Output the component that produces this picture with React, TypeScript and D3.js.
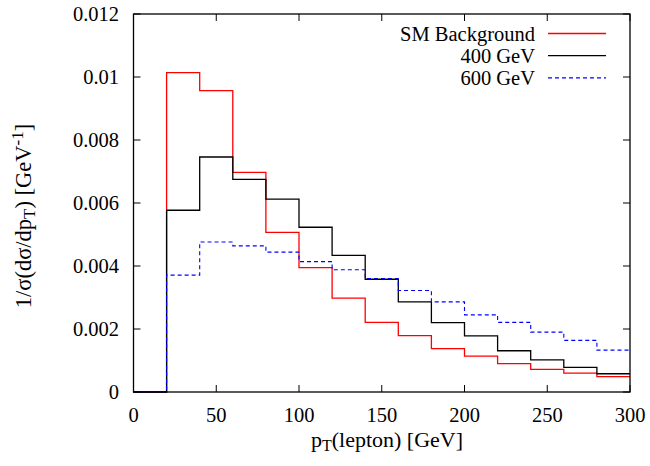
import React from "react";
import * as d3 from "d3";

// bin lower edges (GeV), bin width 20
const binEdges = [0, 20, 40, 60, 80, 100, 120, 140, 160, 180, 200, 220, 240, 260, 280];
const binWidth = 20;

const smBackground = [0, 0.01014, 0.00957, 0.00697, 0.00507, 0.00395, 0.00298, 0.00221, 0.00179, 0.00138, 0.00114, 0.0009, 0.00072, 0.0006, 0.00049];
const mass400 = [0, 0.00577, 0.00746, 0.00675, 0.00612, 0.00523, 0.00434, 0.00358, 0.00286, 0.0022, 0.00178, 0.00131, 0.00102, 0.00078, 0.00058];
const mass600 = [0, 0.00371, 0.00476, 0.00464, 0.00444, 0.00414, 0.00388, 0.0036, 0.00322, 0.00286, 0.00245, 0.00221, 0.0019, 0.00164, 0.00133];

const xTicks = [0, 50, 100, 150, 200, 250, 300];
const yTicks = [0, 0.002, 0.004, 0.006, 0.008, 0.01, 0.012];

const series = [
  { name: "SM Background", values: smBackground, color: "#ff0000", dash: "", width: 1.3 },
  { name: "400 GeV", values: mass400, color: "#000000", dash: "", width: 1.3 },
  { name: "600 GeV", values: mass600, color: "#0000ff", dash: "4,3", width: 1.1 },
];

export default function App() {
  const width = 650;
  const height = 466;
  const margin = { left: 133.5, right: 20, top: 14, bottom: 74 };
  const font = "Liberation Serif, DejaVu Serif, serif";

  const x = d3.scaleLinear().domain([0, 300]).range([margin.left, width - margin.right]);
  const y = d3.scaleLinear().domain([0, 0.012]).range([height - margin.bottom, margin.top]);

  const line = d3
    .line<[number, number]>()
    .x((d) => x(d[0]))
    .y((d) => y(d[1]))
    .curve(d3.curveStepAfter);

  const toPoints = (vals: number[]): [number, number][] => {
    const pts: [number, number][] = binEdges.map((e, i) => [e, vals[i]]);
    pts.push([binEdges[binEdges.length - 1] + binWidth, vals[vals.length - 1]]);
    return pts;
  };

  const [x0, x1] = x.range();
  const [y0, y1] = y.range();
  const tickLen = 7;
  const ts = { fontFamily: font };
  const fs = 20.5;

  return (
    <svg
      width={width}
      height={height}
      style={{ position: "absolute", left: 0, top: 0, background: "#fff", fontFamily: font }}
    >
      {/* series */}
      {series.map((s) => (
        <path
          key={s.name}
          d={line(toPoints(s.values)) || ""}
          fill="none"
          stroke={s.color}
          strokeWidth={s.width}
          strokeDasharray={s.dash || undefined}
        />
      ))}

      {/* ticks, mirrored on all sides */}
      {xTicks.map((t) => (
        <g key={"x" + t}>
          <line x1={x(t)} x2={x(t)} y1={y0} y2={y0 - tickLen} stroke="#000" strokeWidth={1} />
          <line x1={x(t)} x2={x(t)} y1={y1} y2={y1 + tickLen} stroke="#000" strokeWidth={1} />
          <text x={x(t)} y={421.5} textAnchor="middle" fontSize={fs} style={ts}>
            {t}
          </text>
        </g>
      ))}
      {yTicks.map((t) => (
        <g key={"y" + t}>
          <line x1={x0} x2={x0 + tickLen} y1={y(t)} y2={y(t)} stroke="#000" strokeWidth={1} />
          <line x1={x1} x2={x1 - tickLen} y1={y(t)} y2={y(t)} stroke="#000" strokeWidth={1} />
          <text x={119} y={y(t) + 7} textAnchor="end" fontSize={fs} style={ts}>
            {t === 0 ? "0" : String(+t.toFixed(3))}
          </text>
        </g>
      ))}

      {/* frame */}
      <rect x={x0} y={y1} width={x1 - x0} height={y0 - y1} fill="none" stroke="#000" strokeWidth={1.3} />

      {/* legend */}
      {series.map((s, i) => {
        const ly = 33.5 + i * 22.2;
        return (
          <g key={"leg" + s.name}>
            <text x={535} y={ly + 7} textAnchor="end" fontSize={fs} style={ts}>
              {s.name}
            </text>
            <line
              x1={548}
              x2={606}
              y1={ly}
              y2={ly}
              stroke={s.color}
              strokeWidth={s.width}
              strokeDasharray={s.dash || undefined}
            />
          </g>
        );
      })}

      {/* axis titles */}
      <text x={387} y={447} textAnchor="middle" fontSize={22} style={ts}>
        p<tspan fontSize={16} dy={4}>T</tspan>
        <tspan dy={-4}>(lepton) [GeV]</tspan>
      </text>
      <text
        transform={`translate(31,216) rotate(-90)`}
        textAnchor="middle"
        fontSize={22.5}
        style={ts}
      >
        1/σ(dσ/dp<tspan fontSize={17} dy={4}>T</tspan>
        <tspan dy={-4}>) [GeV</tspan>
        <tspan fontSize={17} dy={-8}>-1</tspan>
        <tspan dy={8}>]</tspan>
      </text>
    </svg>
  );
}
